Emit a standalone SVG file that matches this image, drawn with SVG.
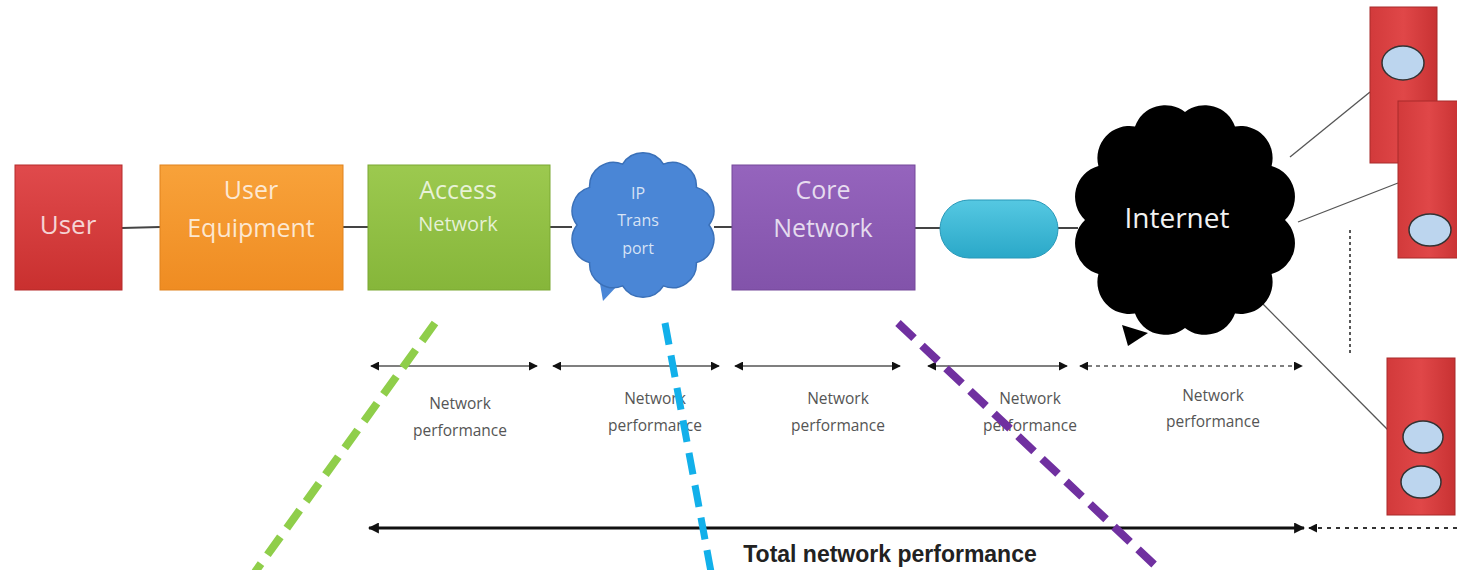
<svg xmlns="http://www.w3.org/2000/svg" width="1457" height="570" viewBox="0 0 1457 570">
<defs>
<style>
.box-text{font-family:"Open Sans","Liberation Sans",sans-serif;fill:#ffffff;fill-opacity:0.78;text-anchor:middle}
.perf{font-family:"Open Sans","Liberation Sans",sans-serif;font-size:15.5px;fill:#555;text-anchor:middle}
.link{stroke:#444;stroke-width:2;fill:none}
.seg{stroke:#555;stroke-width:1.6;fill:none;marker-start:url(#ah);marker-end:url(#ah)}
.srv{stroke:#a82a2b;stroke-width:1}
.disk{fill:#bcd5ee;stroke:#333;stroke-width:1.5}
</style>
<marker id="ah" viewBox="0 0 10 10" refX="9" refY="5" markerWidth="9" markerHeight="9" orient="auto-start-reverse" markerUnits="userSpaceOnUse">
<path d="M0,0 L10,5 L0,10 z" fill="#111"/>
</marker>
<marker id="ahb" viewBox="0 0 10 10" refX="9" refY="5" markerWidth="11" markerHeight="11" orient="auto-start-reverse" markerUnits="userSpaceOnUse">
<path d="M0,0 L10,5 L0,10 z" fill="#111"/>
</marker>
<linearGradient id="gRed" x1="0" y1="0" x2="0" y2="1"><stop offset="0" stop-color="#e04a4c"/><stop offset="1" stop-color="#c9302f"/></linearGradient>
<linearGradient id="gOr" x1="0" y1="0" x2="0" y2="1"><stop offset="0" stop-color="#f8a23a"/><stop offset="1" stop-color="#ef8c22"/></linearGradient>
<linearGradient id="gGr" x1="0" y1="0" x2="0" y2="1"><stop offset="0" stop-color="#9cc94f"/><stop offset="1" stop-color="#86b63a"/></linearGradient>
<linearGradient id="gPu" x1="0" y1="0" x2="0" y2="1"><stop offset="0" stop-color="#9564bd"/><stop offset="1" stop-color="#8253aa"/></linearGradient>
<linearGradient id="gCy" x1="0" y1="0" x2="0" y2="1"><stop offset="0" stop-color="#55c8e2"/><stop offset="1" stop-color="#2aa8c8"/></linearGradient>
<linearGradient id="gSrv" x1="0" y1="0" x2="1" y2="0"><stop offset="0" stop-color="#d23a3b"/><stop offset="0.5" stop-color="#e04748"/><stop offset="1" stop-color="#c83233"/></linearGradient>
</defs>
<rect width="1457" height="570" fill="#ffffff"/>

<g id="connectors">
<line class="link" x1="122" y1="228" x2="160" y2="227"/>
<line class="link" x1="343" y1="227" x2="368" y2="227"/>
<line class="link" x1="550" y1="227" x2="572" y2="227"/>
<line class="link" x1="714" y1="227" x2="732" y2="227"/>
<line class="link" x1="915" y1="228" x2="940" y2="228"/>
<line class="link" x1="1058" y1="228" x2="1078" y2="228"/>
<line x1="1290" y1="157" x2="1370" y2="92" stroke="#555" stroke-width="1.3"/>
<line x1="1298" y1="222" x2="1398" y2="183" stroke="#555" stroke-width="1.3"/>
<line x1="1262" y1="303" x2="1388" y2="430" stroke="#555" stroke-width="1.3"/>
<line x1="1350" y1="230" x2="1350" y2="356" stroke="#222" stroke-width="1.5" stroke-dasharray="3 3"/>
<line class="seg" x1="371" y1="366" x2="537" y2="366"/>
<line class="seg" x1="553" y1="366" x2="719" y2="366"/>
<line class="seg" x1="735" y1="366" x2="900" y2="366"/>
<line class="seg" x1="928" y1="366" x2="1067" y2="366"/>
<line class="seg" x1="1080" y1="366" x2="1302" y2="366" stroke-dasharray="4 4"/>
<line x1="369" y1="528" x2="1304" y2="528" stroke="#111" stroke-width="3.2" marker-start="url(#ahb)" marker-end="url(#ahb)"/>
<line x1="1309" y1="528" x2="1457" y2="528" stroke="#333" stroke-width="1.8" stroke-dasharray="4 5" marker-start="url(#ah)"/>
</g>

<g id="node-user">
<rect x="15" y="165" width="107" height="125" fill="url(#gRed)" stroke="#b52a2b" stroke-width="1"/>
<text class="box-text" x="68" y="234" font-size="26">User</text>
</g>
<g id="node-user-equipment">
<rect x="160" y="165" width="183" height="125" fill="url(#gOr)" stroke="#e0821c" stroke-width="1"/>
<text class="box-text" x="251" y="199" font-size="25">User</text>
<text class="box-text" x="251" y="237" font-size="25">Equipment</text>
</g>
<g id="node-access-network">
<rect x="368" y="165" width="182" height="125" fill="url(#gGr)" stroke="#7aa832" stroke-width="1"/>
<text class="box-text" x="458" y="199" font-size="25">Access</text>
<text class="box-text" x="458" y="231" font-size="20">Network</text>
</g>
<g id="node-ip-transport">
<path d="M599,278 L603,301 L618,285 Z" fill="#4a86d6"/>
<path d="M709,225 A24,24 0 0 1 696.4,262.6 A24,24 0 0 1 663.4,285.9 A24,24 0 0 1 622.6,285.9 A24,24 0 0 1 589.6,262.6 A24,24 0 0 1 577,225 A24,24 0 0 1 589.6,187.4 A24,24 0 0 1 622.6,164.1 A24,24 0 0 1 663.4,164.1 A24,24 0 0 1 696.4,187.4 A24,24 0 0 1 709,225 Z" fill="#4a86d6" stroke="#3a70b8" stroke-width="1.5"/>
<text class="box-text" x="638" y="199" font-size="16">IP</text>
<text class="box-text" x="638" y="226" font-size="16">Trans</text>
<text class="box-text" x="638" y="254" font-size="16">port</text>
</g>
<g id="node-core-network">
<rect x="732" y="165" width="183" height="125" fill="url(#gPu)" stroke="#74489a" stroke-width="1"/>
<text class="box-text" x="823" y="199" font-size="25">Core</text>
<text class="box-text" x="823" y="237" font-size="25">Network</text>
</g>
<g id="node-gateway">
<rect x="940" y="200" width="118" height="58" rx="29" ry="29" fill="url(#gCy)" stroke="#2898b8" stroke-width="1"/>
</g>
<g id="node-internet">
<path d="M1122,325 L1128,346 L1148,333 Z" fill="#000"/>
<path d="M1285,220 A32,32 0 0 1 1271.6,274 A32,32 0 0 1 1235,313.5 A32,32 0 0 1 1185,328 A32,32 0 0 1 1135,313.5 A32,32 0 0 1 1098.4,274 A32,32 0 0 1 1085,220 A32,32 0 0 1 1098.4,166 A32,32 0 0 1 1135,126.5 A32,32 0 0 1 1185,112 A32,32 0 0 1 1235,126.5 A32,32 0 0 1 1271.6,166 A32,32 0 0 1 1285,220 Z" fill="#000"/>
<text x="1177" y="228" font-family="'Open Sans','Liberation Sans',sans-serif" font-size="28" fill="#f2f2f2" text-anchor="middle">Internet</text>
</g>
<g id="node-server-1">
<rect class="srv" x="1370" y="7" width="67" height="156" fill="url(#gSrv)"/>
<ellipse class="disk" cx="1403" cy="63" rx="21" ry="17"/>
</g>
<g id="node-server-2">
<rect class="srv" x="1398" y="101" width="62" height="157" fill="url(#gSrv)"/>
<ellipse class="disk" cx="1430" cy="230" rx="21" ry="16"/>
</g>
<g id="node-server-3">
<rect class="srv" x="1387" y="358" width="68" height="157" fill="url(#gSrv)"/>
<ellipse class="disk" cx="1423" cy="437" rx="20" ry="16"/>
<ellipse class="disk" cx="1421" cy="482" rx="20" ry="16"/>
</g>

<g id="labels">
<text class="perf" x="460" y="409">Network</text>
<text class="perf" x="460" y="436">performance</text>
<text class="perf" x="655" y="404">Network</text>
<text class="perf" x="655" y="431">performance</text>
<text class="perf" x="838" y="404">Network</text>
<text class="perf" x="838" y="431">performance</text>
<text class="perf" x="1030" y="404">Network</text>
<text class="perf" x="1030" y="431">performance</text>
<text class="perf" x="1213" y="401">Network</text>
<text class="perf" x="1213" y="427">performance</text>
<text x="890" y="562" font-family="'Liberation Sans',Arial,sans-serif" font-weight="bold" font-size="23" fill="#222" text-anchor="middle">Total network performance</text>
</g>

<g id="dashed-markers">
<line x1="435" y1="323" x2="255" y2="572" stroke="#8fce4a" stroke-width="8" stroke-dasharray="22 11"/>
<line x1="665" y1="323" x2="711" y2="572" stroke="#12b0ea" stroke-width="7" stroke-dasharray="22 11"/>
<line x1="898" y1="323" x2="1162" y2="572" stroke="#7030a0" stroke-width="8" stroke-dasharray="22 11"/>
</g>
</svg>
